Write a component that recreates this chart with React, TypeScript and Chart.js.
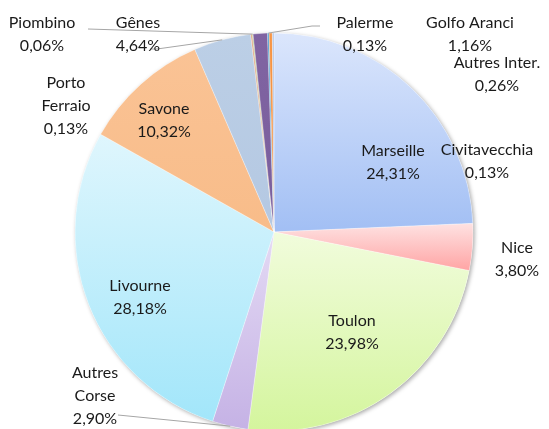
import React, { useEffect, useRef } from "react";
import { Chart, registerables } from "chart.js";

Chart.register(...registerables);

// ---- Data ----
const ports = [
  "Marseille",
  "Nice",
  "Toulon",
  "Autres Corse",
  "Livourne",
  "Savone",
  "Gênes",
  "Porto Ferraio",
  "Piombino",
  "Golfo Aranci",
  "Palerme",
  "Autres Inter.",
  "Civitavecchia",
];
const shares = [24.31, 3.8, 23.98, 2.9, 28.18, 10.32, 4.64, 0.13, 0.06, 1.16, 0.13, 0.26, 0.13];
const shareLabels = ["24,31%", "3,80%", "23,98%", "2,90%", "28,18%", "10,32%", "4,64%", "0,13%", "0,06%", "1,16%", "0,13%", "0,26%", "0,13%"];

// ---- Styles ----
const topColors = ["#dbe6fc", "#fee2e2", "#f1fcdc", "#e4daf4", "#dff6fd", "#fac395", "#bccfe6", "#e0a884", "#9bbb59", "#8064a2", "#4a9bd0", "#f79646", "#b4c6e4"];
const bottomColors = ["#a2bff4", "#ffa4a4", "#d4f59d", "#c5b2e5", "#a2e6fa", "#f8bc89", "#b4c8e2", "#d89a74", "#8aab4a", "#7a5e9c", "#4a9bd0", "#f08a38", "#a9bddf"];

const labelLayout: { x: number; y: number; lines: string[]; leader: [number, number][] | null }[] = [
  { x: 393, y: 162, lines: ["Marseille"], leader: null },
  { x: 517, y: 259, lines: ["Nice"], leader: null },
  { x: 352, y: 332, lines: ["Toulon"], leader: null },
  { x: 95, y: 396, lines: ["Autres", "Corse"], leader: [[118, 415]] },
  { x: 140, y: 297, lines: ["Livourne"], leader: null },
  { x: 164, y: 120, lines: ["Savone"], leader: null },
  { x: 138, y: 34, lines: ["Gênes"], leader: [[150, 49], [157, 49]] },
  { x: 66, y: 106, lines: ["Porto", "Ferraio"], leader: null },
  { x: 42, y: 34, lines: ["Piombino"], leader: [[88, 29]] },
  { x: 470, y: 34, lines: ["Golfo Aranci"], leader: null },
  { x: 365, y: 34, lines: ["Palerme"], leader: [[320, 26], [312, 26]] },
  { x: 497, y: 74, lines: ["Autres Inter."], leader: null },
  { x: 487, y: 161, lines: ["Civitavecchia"], leader: null },
];

const FONT = "16px Lato, 'Open Sans', sans-serif";
const LINE_H = 23;

function sliceAngles(i: number) {
  const total = shares.reduce((a, b) => a + b, 0);
  let before = 0;
  for (let k = 0; k < i; k++) before += shares[k];
  const start = -Math.PI / 2 + (before / total) * Math.PI * 2;
  const end = start + (shares[i] / total) * Math.PI * 2;
  return { start, end };
}

export default function App() {
  const ref = useRef<HTMLCanvasElement | null>(null);

  useEffect(() => {
    if (!ref.current) return;

    const shadowPlugin = {
      id: "pieShadow",
      beforeDatasetsDraw(chart: any) {
        const arc = chart.getDatasetMeta(0).data[0];
        if (!arc) return;
        const ctx = chart.ctx;
        ctx.save();
        ctx.beginPath();
        ctx.arc(arc.x, arc.y, arc.outerRadius, 0, Math.PI * 2);
        ctx.shadowColor = "rgba(0,0,0,0.35)";
        ctx.shadowBlur = 4;
        ctx.shadowOffsetX = 1.5;
        ctx.shadowOffsetY = 1.5;
        ctx.fillStyle = "#ffffff";
        ctx.fill();
        ctx.restore();
      },
    };

    const labelPlugin = {
      id: "pieLabels",
      afterDatasetsDraw(chart: any) {
        const ctx = chart.ctx;
        const meta = chart.getDatasetMeta(0);
        ctx.save();
        ctx.strokeStyle = "#a6a6a6";
        ctx.lineWidth = 1;
        labelLayout.forEach((lab, i) => {
          if (!lab.leader) return;
          const arc = meta.data[i];
          const mid = (arc.startAngle + arc.endAngle) / 2;
          const ex = arc.x + Math.cos(mid) * arc.outerRadius;
          const ey = arc.y + Math.sin(mid) * arc.outerRadius;
          ctx.beginPath();
          ctx.moveTo(lab.leader[0][0], lab.leader[0][1]);
          for (let k = 1; k < lab.leader.length; k++) ctx.lineTo(lab.leader[k][0], lab.leader[k][1]);
          ctx.lineTo(ex, ey);
          ctx.stroke();
        });
        ctx.font = FONT;
        ctx.fillStyle = "#1a1a1a";
        ctx.textAlign = "center";
        ctx.textBaseline = "middle";
        labelLayout.forEach((lab, i) => {
          const lines = [...lab.lines, shareLabels[i]];
          const h = (lines.length - 1) * LINE_H;
          lines.forEach((t, k) => {
            ctx.fillText(t, lab.x, lab.y - h / 2 + k * LINE_H);
          });
        });
        ctx.restore();
      },
    };

    const chart = new Chart(ref.current, {
      type: "pie",
      data: {
        labels: ports,
        datasets: [
          {
            data: shares,
            borderWidth: 0.6,
            borderColor: "rgba(255,255,255,0.5)",
            clip: false as any,
            backgroundColor: (c: any) => {
              const i = c.dataIndex;
              const chart = c.chart;
              const area = chart.chartArea;
              if (!area) return topColors[i];
              const cx = (area.left + area.right) / 2;
              const cy = (area.top + area.bottom) / 2;
              const r = 199;
              const { start, end } = sliceAngles(i);
              let ymin = cy;
              let ymax = cy;
              const ys = [cy + Math.sin(start) * r, cy + Math.sin(end) * r];
              ys.forEach((y) => {
                ymin = Math.min(ymin, y);
                ymax = Math.max(ymax, y);
              });
              const inArc = (a: number) => {
                let t = a;
                while (t < start) t += Math.PI * 2;
                return t <= end;
              };
              if (inArc(-Math.PI / 2)) ymin = cy - r;
              if (inArc(Math.PI / 2)) ymax = cy + r;
              if (ymax - ymin < 1) ymax = ymin + 1;
              const g = chart.ctx.createLinearGradient(0, ymin, 0, ymax);
              g.addColorStop(0, topColors[i]);
              g.addColorStop(1, bottomColors[i]);
              return g;
            },
          },
        ],
      },
      options: {
        responsive: false,
        animation: false,
        events: [],
        radius: 199,
        layout: { padding: { top: 35, bottom: 0, left: 0, right: 1 } },
        plugins: {
          legend: { display: false },
          tooltip: { enabled: false },
        },
      } as any,
      plugins: [shadowPlugin, labelPlugin],
    });
    return () => chart.destroy();
  }, []);

  return (
    <div style={{ position: "fixed", left: 0, top: 0, width: 549, height: 429, background: "#fff" }}>
      <canvas ref={ref} width={549} height={429} />
    </div>
  );
}
